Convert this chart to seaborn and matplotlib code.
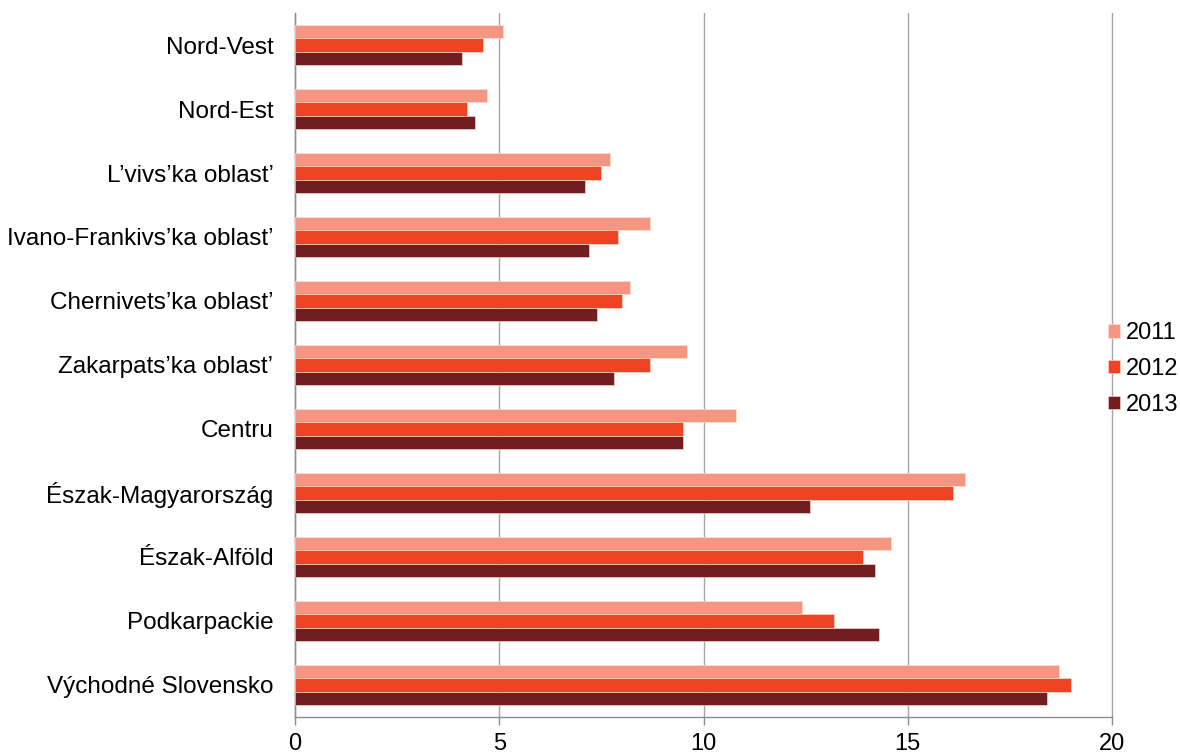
import pandas as pd
import matplotlib.pyplot as plt
import seaborn as sns
import numpy as np
from matplotlib.ticker import MultipleLocator, FixedLocator, NullFormatter

# Regions, top to bottom
regions = [
    "Nord-Vest",
    "Nord-Est",
    "L\u2019vivs\u2019ka oblast\u2019",
    "Ivano-Frankivs\u2019ka oblast\u2019",
    "Chernivets\u2019ka oblast\u2019",
    "Zakarpats\u2019ka oblast\u2019",
    "Centru",
    "\u00c9szak-Magyarorsz\u00e1g",
    "\u00c9szak-Alf\u00f6ld",
    "Podkarpackie",
    "V\u00fdchodn\u00e9 Slovensko",
]
years = ["2011", "2012", "2013"]

v2011 = [5.1, 4.7, 7.7, 8.7, 8.2, 9.6, 10.8, 16.4, 14.6, 12.4, 18.7]
v2012 = [4.6, 4.2, 7.5, 7.9, 8.0, 8.7, 9.5, 16.1, 13.9, 13.2, 19.0]
v2013 = [4.1, 4.4, 7.1, 7.2, 7.4, 7.8, 9.5, 12.6, 14.2, 14.3, 18.4]

colors = ["#F59582", "#EF4423", "#741D21"]

df = pd.DataFrame({"region": regions, "2011": v2011, "2012": v2012, "2013": v2013})
long = df.melt(id_vars="region", var_name="year", value_name="value")

sns.set_style("white")
plt.rcParams["font.family"] = ["Liberation Sans", "DejaVu Sans"]
plt.rcParams["text.color"] = "black"

fig = plt.figure(figsize=(11.8, 7.56), dpi=100)
ax = fig.add_axes([0.25, 0.0516, 0.6924, 0.9312])

sns.barplot(
    data=long, y="region", x="value", hue="year",
    order=regions, hue_order=years, palette=colors, saturation=1,
    orient="h", width=0.62, edgecolor="#fbe3dc", linewidth=0.4,
    legend=True, ax=ax, zorder=3,
)

ax.set_xlim(0, 20)
ax.set_ylim(len(regions) - 0.5, -0.5)
ax.xaxis.set_major_locator(MultipleLocator(5))
ax.grid(axis="x", color="#a6a6a6", linewidth=1, zorder=0, clip_on=False)
ax.set_axisbelow(True)

# category ticks sit on the group boundaries
ax.yaxis.set_major_locator(FixedLocator(np.arange(len(regions))))
ax.yaxis.set_minor_locator(FixedLocator(np.arange(len(regions) + 1) - 0.5))
ax.yaxis.set_minor_formatter(NullFormatter())
ax.tick_params(axis="y", which="major", length=0, pad=15.5, labelsize=17.5,
               labelcolor="black")
ax.tick_params(axis="y", which="minor", length=6, width=1, color="#8c8c8c", direction="out")
ax.tick_params(axis="x", length=6, width=1, color="#8c8c8c", direction="out",
               pad=5.5, labelsize=17, bottom=True, labelcolor="black")

ax.set_xlabel("")
ax.set_ylabel("")
for s in ["top", "right"]:
    ax.spines[s].set_visible(False)
for s in ["left", "bottom"]:
    ax.spines[s].set_color("#8c8c8c")
    ax.spines[s].set_linewidth(1)

ax.legend(
    loc="center left", bbox_to_anchor=(0.939, 0.512), bbox_transform=fig.transFigure,
    frameon=False, fontsize=17, handlelength=0.5, handleheight=0.5,
    handletextpad=0.25, labelspacing=0.58, borderaxespad=0, borderpad=0,
)

fig.savefig("out.png", dpi=100)
